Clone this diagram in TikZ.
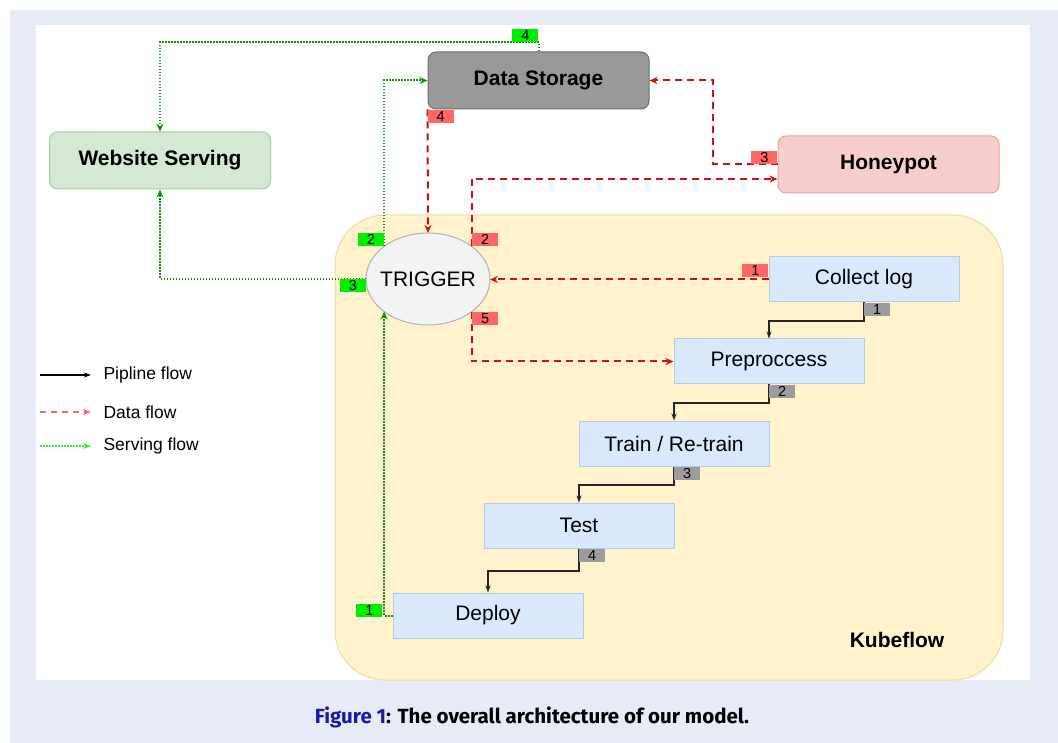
\documentclass[tikz,border=0pt]{standalone}
\usepackage{fontspec}
\setmainfont{Liberation Sans}
\newfontfamily\capfont{Fira Sans}
\usetikzlibrary{arrows.meta, positioning, calc, shapes.geometric}
\definecolor{panelblue}{HTML}{E6EBF6}
\definecolor{kfyellow}{HTML}{FFF2CC}
\definecolor{kfborder}{HTML}{EEDC9E}
\definecolor{stepblue}{HTML}{DAE8FC}
\definecolor{stepborder}{HTML}{B3CAEA}
\definecolor{storegray}{HTML}{999999}
\definecolor{storeborder}{HTML}{6E6E6E}
\definecolor{webgreen}{HTML}{D5E8D4}
\definecolor{webborder}{HTML}{A8CEA5}
\definecolor{honeyred}{HTML}{F8CECC}
\definecolor{honeyborder}{HTML}{E3A3A1}
\definecolor{trigfill}{HTML}{F3F3F3}
\definecolor{flowred}{HTML}{CC1010}
\definecolor{tagred}{HTML}{FF6666}
\definecolor{flowgreen}{HTML}{129016}
\definecolor{taggreen}{HTML}{00EE00}
\definecolor{taggray}{HTML}{9C9C9C}
\definecolor{legred}{HTML}{FF6666}
\definecolor{leggreen}{HTML}{33EE33}
\definecolor{capblue}{HTML}{1A1AA0}

\begin{document}
\begin{tikzpicture}[x=1pt, y=-1pt, font=\fontsize{21}{25}\selectfont,
  >={Stealth[length=8pt, width=7pt]},
  bigbox/.style={rounded corners=8pt, line width=1pt, minimum width=221pt, minimum height=57pt, inner sep=0pt, font=\fontsize{21}{25}\selectfont\bfseries},
  stepbox/.style={draw=stepborder, fill=stepblue, line width=1pt, minimum width=190pt, minimum height=45pt, inner sep=0pt},
  tag/.style={font=\fontsize{14.5}{15}\selectfont, minimum width=26pt, minimum height=13pt, inner sep=0pt},
  pipe/.style={draw=black!85, line width=1.2pt, ->, >={Stealth[length=7pt, width=5pt]}},
  dataflow/.style={draw=flowred, line width=2pt, dash pattern=on 7pt off 5pt, ->},
  servflow/.style={draw=flowgreen, line width=2pt, dash pattern=on 1.5pt off 1.5pt, ->},
  legtext/.style={anchor=west, font=\fontsize{17.5}{20}\selectfont}
]

% Background
\useasboundingbox (0,0) rectangle (1058,743);
\fill[white] (0,0) rectangle (1058,743);
\fill[panelblue] (10,10) rectangle (1058,743);
\fill[white] (36,25) rectangle (1030,680);

% Kubeflow area
\draw[kfborder, fill=kfyellow, line width=1pt, rounded corners=50pt] (335,215) rectangle (1003,680);
\node[font=\fontsize{21}{25}\selectfont\bfseries] (kflabel) at (897,640) {Kubeflow};

% Outer boxes
\node[bigbox, draw=storeborder, fill=storegray] (store) at (538.5,80.5) {Data Storage};
\node[bigbox, draw=webborder, fill=webgreen] (web) at (160,160.5) {Website Serving};
\node[bigbox, draw=honeyborder, fill=honeyred] (honey) at (888.5,164.5) {Honeypot};

% Trigger
\node[ellipse, draw=black!30, fill=trigfill, line width=1pt, minimum width=124pt, minimum height=92pt, inner xsep=-6pt, inner ysep=0pt, outer sep=0pt] (trigger) at (428,279) {TRIGGER};

% Pipeline steps
\node[stepbox] (collect) at (864,279.5) {Collect log};
\node[stepbox] (prep) at (769,361.5) {Preproccess};
\node[stepbox] (train) at (674,443.5) {Train / Re-train};
\node[stepbox] (test) at (579,525.5) {Test};
\node[stepbox] (deploy) at (488,615.5) {Deploy};

% Pipeline flow
\draw[pipe] (collect.south) -- ++(0,18.5) -| (prep.north);
\draw[pipe] (prep.south) -- ++(0,18.5) -| (train.north);
\draw[pipe] (train.south) -- ++(0,18.5) -| (test.north);
\draw[pipe] (test.south) -- ++(0,22.5) -| (deploy.north);
\node[tag, fill=taggray, anchor=north west] at (collect.south) {1};
\node[tag, fill=taggray, anchor=north west] at (prep.south) {2};
\node[tag, fill=taggray, anchor=north west] at (train.south) {3};
\node[tag, fill=taggray, anchor=north west] at (test.south) {4};

% Data flow
\draw[dataflow] (collect.west) -- (collect.west -| trigger.east);
\draw[dataflow] (trigger.north east) |- ([yshift=-14.5pt]honey.west);
\draw[dataflow] (honey.west) -- ++(-65,0) |- (store.east);
\draw[dataflow] (store.south west) -- (trigger.north);
\draw[dataflow] (trigger.south east) |- (prep.west);
\node[tag, fill=tagred, anchor=south east] at ([yshift=2pt]collect.west) {1};
\node[tag, fill=tagred, anchor=south west] at (trigger.north east) {2};
\node[tag, fill=tagred, anchor=south east] at (honey.west) {3};
\node[tag, fill=tagred, anchor=north west] at (store.south west) {4};
\node[tag, fill=tagred, anchor=north west] at (trigger.south east) {5};

% Serving flow
\draw[servflow] (deploy.west) -| (trigger.south west);
\draw[servflow] (trigger.north west) |- (store.west);
\draw[servflow] (trigger.west) -| (web.south);
\draw[servflow] (store.north) -- ++(0,-9) -| (web.north);
\node[tag, fill=taggreen, anchor=east] at ([xshift=-10pt, yshift=5pt]deploy.west) {1};
\node[tag, fill=taggreen, anchor=south east] at (trigger.north west) {2};
\node[tag, fill=taggreen, anchor=north east] at (trigger.west) {3};
\node[tag, fill=taggreen, anchor=south east] at ([yshift=9pt]store.north) {4};

% Legend
\node[legtext] (legpipe) at (100,375) {Pipline flow};
\node[legtext] (legdata) at (100,412) {Data flow};
\node[legtext] (legserv) at (100,446) {Serving flow};
\draw[pipe, draw=black] ([xshift=-60pt]legpipe.west) -- ([xshift=-9pt]legpipe.west);
\draw[legred, line width=1.5pt, dash pattern=on 6pt off 5pt, ->, >={Stealth[length=8pt, width=6pt]}] ([xshift=-60pt]legdata.west) -- ([xshift=-9pt]legdata.west);
\draw[leggreen, line width=1.5pt, dash pattern=on 1.5pt off 1.5pt, ->, >={Stealth[length=8pt, width=6pt]}] ([xshift=-60pt]legserv.west) -- ([xshift=-9pt]legserv.west);

% Caption
\node[font=\capfont\bfseries\fontsize{20.5}{24}\selectfont] (caption) at (532,717) {\textcolor{capblue}{Figure 1}: The overall architecture of our model.};

\end{tikzpicture}
\end{document}
